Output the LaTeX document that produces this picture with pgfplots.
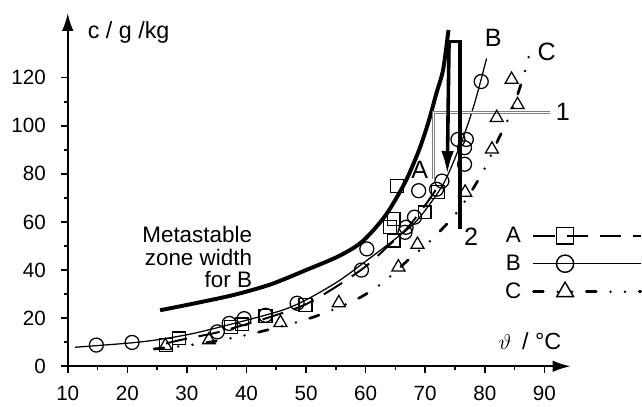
\documentclass[border=0pt]{standalone}
\usepackage{fontspec}
\setmainfont{Liberation Sans}
\usepackage{pgfplots}
\pgfplotsset{compat=1.18}
\usetikzlibrary{arrows.meta}

\pgfplotsset{
  Aline/.style={black, line width=1.1pt, dash pattern=on 12pt off 6.5pt},
  Bline/.style={black, line width=0.7pt},
  Cline/.style={black, line width=1.5pt, line cap=round, dash pattern=on 5.5pt off 8pt on 0pt off 8pt on 0pt off 8pt},
  Amark/.style={black, only marks, mark=square, mark size=3.6pt, mark options={solid, fill=white, line width=0.7pt}},
  Bmark/.style={black, only marks, mark=o, mark size=3.9pt, mark options={solid, fill=white, line width=0.7pt}},
  Cmark/.style={black, only marks, mark=triangle, mark size=4.2pt, mark options={solid, fill=white, line width=0.7pt}},
}

\begin{document}
\begin{tikzpicture}
\begin{axis}[
  scale only axis, width=9.85cm, height=6.92cm,
  xmin=10, xmax=94.4, ymin=0, ymax=146.9, enlargelimits=false,
  axis lines=left, clip=false,
  axis line style={line width=1.2pt, -{Latex[length=10pt,width=6.5pt]}},
  xtick={10,20,...,90}, ytick={0,20,...,120},
  minor x tick num=1, minor y tick num=1,
  tick align=outside, major tick length=0.13cm, minor tick length=0.07cm,
  tick style={line width=0.9pt, black},
  tick label style={font=\fontsize{11.5}{13}\selectfont},
  xticklabel style={yshift=-4pt},
  yticklabel style={xshift=-5pt},
  /pgf/number format/assume math mode=true,
  legend plot pos=right,
  legend image code/.code={\draw[#1,mark repeat=2,mark phase=2] plot coordinates {(0cm,0cm)(0.62cm,0cm)(2.1cm,0cm)};},
  legend style={draw=none, fill=none, at={(0.862,0.29)}, anchor=west,
    font=\fontsize{12.5}{12.5}\selectfont, row sep=1.5pt, column sep=4pt, inner sep=0pt},
]
% legend
\addlegendimage{Aline, mark=square, mark size=4.7pt, mark options={solid, fill=white, line width=0.8pt}}
\addlegendentry{A}
\addlegendimage{Bline, mark=o, mark size=4.8pt, mark options={solid, fill=white, line width=0.8pt}}
\addlegendentry{B}
\addlegendimage{Cline, mark=triangle, mark size=5.4pt, mark options={solid, fill=white, line width=0.8pt}}
\addlegendentry{C}

% metastable zone width for B
\addplot[black, line width=2.2pt, smooth, forget plot] coordinates {
(25.5,23.3) (30,25.5) (37.6,29.5) (44,34) (50,40) (55.5,45.8) (59.4,51.8) (63.3,62.6)
(66.6,76.4) (68.9,89.5) (70.5,101.2) (71.9,113.7) (73,123.3) (73.9,139.8)};

% fitted curves
\addplot[Cline, smooth, forget plot] coordinates {
(24.5,7.2) (32,9.3) (40,13) (49,18.7) (54,23) (59,28.5) (63,35) (67.5,45) (71,52.5)
(75.5,64.5) (79.5,80) (82.2,94) (84.5,106) (86.3,119) (87.4,129)};
\addplot[Aline, smooth, forget plot] coordinates {
(26.5,9.5) (30,11.5) (35,14) (40,17.5) (45,21.3) (50,25.8) (55,33) (60,41.5) (64,50.5)
(67,57.5) (70,67) (72.5,76)};
\addplot[Bline, smooth, forget plot] coordinates {
(11.2,7.9) (15,8.6) (21,9.8) (25,11) (31,13.6) (39,18.5) (46,23.3) (50,27.6) (55.5,35.5)
(61,45.5) (65,53) (68,59) (70.5,66.5) (73.3,77) (76.2,94) (78.3,109.5) (80.3,128)};

% guide lines, box and arrow
\addplot[gray, line width=0.45pt, double=white, double distance=0.8pt, forget plot] coordinates {
(71.4,78) (71.4,105.6) (90.9,105.6)};
\addplot[black, line width=2pt, forget plot] coordinates {(74,135) (75.8,135) (75.8,57)};
\addplot[black, line width=2pt, -{Latex[length=13pt,width=7pt]}, forget plot] coordinates {(74,135) (73.7,79.8)};

% measured points
\addplot[Amark, forget plot] coordinates {
(26.5,8.8) (28.7,11.6) (37.4,16.4) (39.3,17.4) (43.2,21) (49.9,25.6) (64.7,52.3)
(64.1,57.8) (64.7,61.2) (69.9,64) (65.3,75) (72.2,72.5)};
\addplot[Bmark, forget plot] coordinates {
(14.8,8.8) (20.8,9.9) (35.1,14.3) (37.1,17.8) (39.6,19.8) (43.2,21.2) (48.5,26.2)
(59.3,40) (60.2,48.8) (66.6,55.7) (66.8,57.8) (68.2,62) (68.9,73) (71.9,73.6) (72.8,77)
(75.5,94.3) (76.9,94.3) (76.6,90.9) (76.6,84) (79.4,118.4)};
\addplot[Cmark, forget plot] coordinates {
(26.4,8.5) (33.7,10.9) (45.7,18.1) (55.5,26.3) (65.5,41.2) (68.7,50.6) (76.7,72.3)
(81.2,90.2) (82,103.3) (85.5,108.7) (84.5,119.2)};

% labels
\node[anchor=west, font=\fontsize{13}{13}\selectfont] at (axis cs:12.3,138.6) {c / g /kg};
\node[anchor=west, font=\fontsize{13}{13}\selectfont] at (axis cs:81.3,10.3) {$\vartheta$\hspace{6pt}/ °C};
\node[anchor=east, align=right, font=\fontsize{12.5}{12.5}\selectfont] at (axis cs:42,45.3) {Metastable\\zone width\\for B};
\node[font=\fontsize{14}{14}\selectfont] at (axis cs:69.1,81.5) {A};
\node[font=\fontsize{14}{14}\selectfont] at (axis cs:81.4,136.5) {B};
\node[font=\fontsize{14}{14}\selectfont] at (axis cs:90.4,130.7) {C};
\node[font=\fontsize{14}{14}\selectfont] at (axis cs:93.1,105.9) {1};
\node[font=\fontsize{14}{14}\selectfont] at (axis cs:77.7,53.8) {2};

% picture frame
\path (axis cs:-1.37,-15.7) rectangle (axis cs:106,152.3);
\end{axis}
\end{tikzpicture}
\end{document}
